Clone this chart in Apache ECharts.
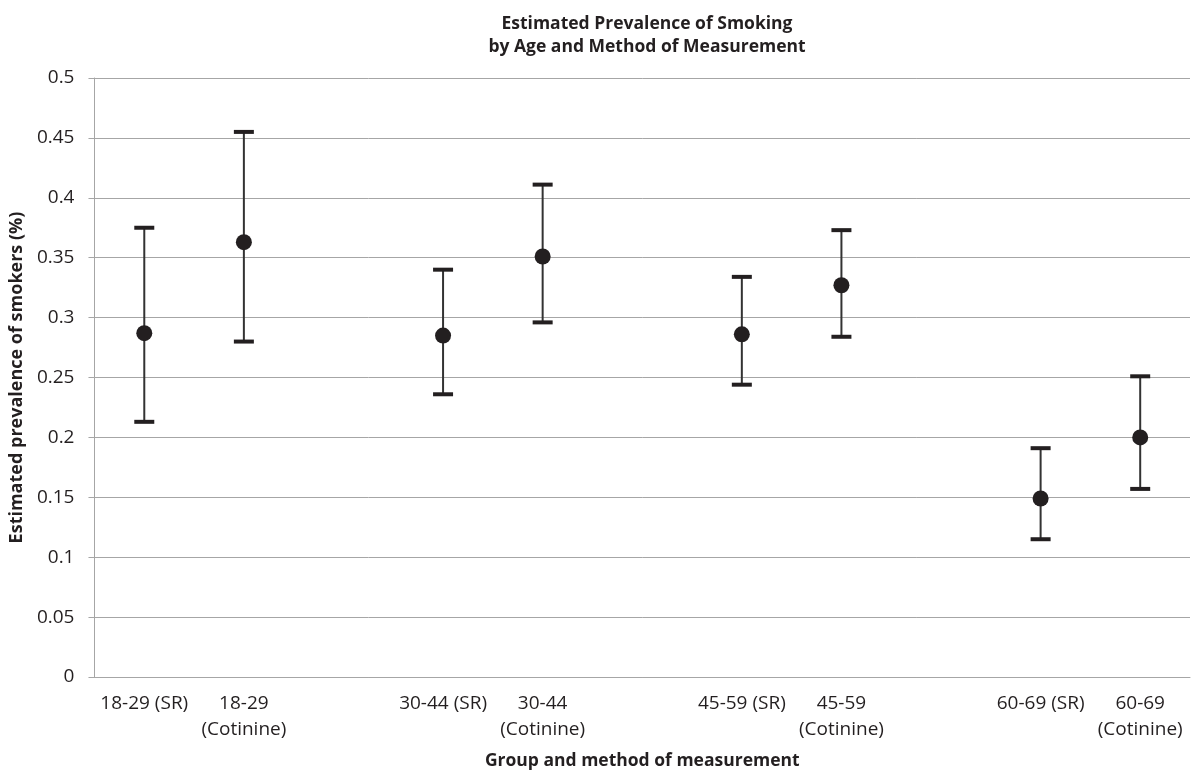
<!DOCTYPE html>
<html>
<head>
<meta charset="utf-8">
<script src="https://cdn.jsdelivr.net/npm/echarts@6/dist/echarts.min.js"></script>
<style>
  html, body { margin: 0; padding: 0; background: #fff; }
  #chart { width: 1191px; height: 775px; }
</style>
</head>
<body>
<div id="chart"></div>
<script>
// Groups, in order; a blank slot is left between each age band
const groups = ['18-29 (SR)', '18-29\n(Cotinine)', '30-44 (SR)', '30-44\n(Cotinine)',
                '45-59 (SR)', '45-59\n(Cotinine)', '60-69 (SR)', '60-69\n(Cotinine)']
const estimates = [0.287, 0.363, 0.285, 0.351, 0.286, 0.327, 0.149, 0.200]
const lower     = [0.213, 0.280, 0.236, 0.296, 0.244, 0.284, 0.115, 0.157]
const upper     = [0.375, 0.455, 0.340, 0.411, 0.334, 0.373, 0.191, 0.251]
const yTicks = [0, 0.05, 0.1, 0.15, 0.2, 0.25, 0.3, 0.35, 0.4, 0.45, 0.5]

// build category list with gaps after every pair
const categories = []
const catIndex = []
groups.forEach((g, i) => {
  if (i > 0 && i % 2 === 0) categories.push('')
  catIndex.push(categories.length)
  categories.push(g)
})

const pointData = estimates.map((v, i) => [catIndex[i], v])
const errorData = lower.map((lo, i) => [catIndex[i], lo, upper[i]])

const textColor = '#231f20'
const gridColor = '#a6a6a6'

const chart = echarts.init(document.getElementById('chart'), null, { renderer: 'canvas' })

chart.setOption({
  backgroundColor: '#fff',
  animation: false,
  title: {
    text: 'Estimated Prevalence of Smoking\nby Age and Method of Measurement',
    left: 642,
    textAlign: 'center',
    top: 8,
    textStyle: {
      fontFamily: 'Open Sans',
      fontWeight: 'bold',
      fontSize: 17.5,
      lineHeight: 23,
      color: textColor
    }
  },
  grid: { left: 94, right: 1, top: 78, bottom: 97 },
  xAxis: {
    type: 'category',
    data: categories,
    name: 'Group and method of measurement',
    nameLocation: 'middle',
    nameGap: 75,
    nameTextStyle: { fontFamily: 'Open Sans', fontWeight: 'bold', fontSize: 17.5, color: textColor },
    axisLine: { lineStyle: { color: gridColor, width: 1 } },
    axisTick: { show: false },
    axisLabel: {
      interval: 0,
      margin: 14,
      fontFamily: 'Open Sans',
      fontSize: 19,
      lineHeight: 26,
      color: textColor
    },
    splitLine: { show: false }
  },
  yAxis: {
    type: 'value',
    min: 0,
    max: 0.5,
    interval: 0.05,
    name: 'Estimated prevalence of smokers (%)',
    nameLocation: 'middle',
    nameRotate: 90,
    nameGap: 64,
    nameTextStyle: { fontFamily: 'Open Sans', fontWeight: 'bold', fontSize: 18, color: textColor },
    axisLine: { show: true, lineStyle: { color: gridColor, width: 1 } },
    axisTick: { show: true, length: 6, lineStyle: { color: gridColor } },
    axisLabel: {
      margin: 20,
      fontFamily: 'Open Sans',
      fontSize: 19,
      color: textColor,
      formatter: v => {
        const t = yTicks.find(k => Math.abs(k - v) < 1e-9)
        return String(t !== undefined ? t : v)
      }
    },
    splitLine: { lineStyle: { color: gridColor, width: 1 } }
  },
  series: [
    {
      // confidence interval whiskers
      type: 'custom',
      data: errorData,
      z: 2,
      renderItem: (params, api) => {
        const x = api.value(0)
        const lo = api.coord([x, api.value(1)])
        const hi = api.coord([x, api.value(2)])
        const half = 10
        return {
          type: 'group',
          children: [
            { type: 'line', shape: { x1: lo[0], y1: lo[1], x2: hi[0], y2: hi[1] },
              style: { stroke: '#333', lineWidth: 2 } },
            { type: 'line', shape: { x1: hi[0] - half, y1: hi[1], x2: hi[0] + half, y2: hi[1] },
              style: { stroke: textColor, lineWidth: 4 } },
            { type: 'line', shape: { x1: lo[0] - half, y1: lo[1], x2: lo[0] + half, y2: lo[1] },
              style: { stroke: textColor, lineWidth: 4 } }
          ]
        }
      }
    },
    {
      type: 'scatter',
      data: pointData,
      symbol: 'circle',
      symbolSize: 16,
      z: 3,
      itemStyle: { color: textColor, opacity: 1 }
    }
  ]
})
</script>
</body>
</html>
